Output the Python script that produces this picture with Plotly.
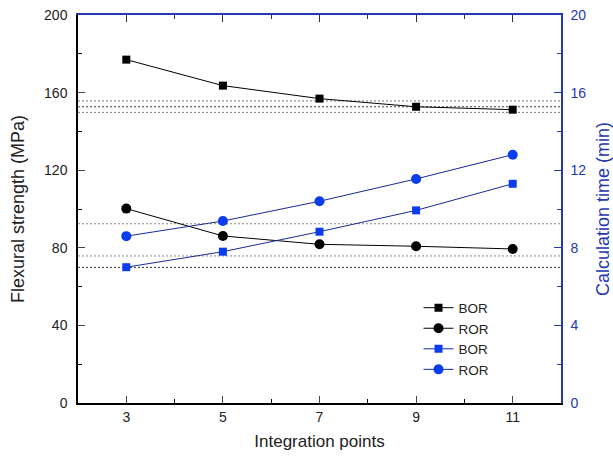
import plotly.graph_objects as go

points = [3, 5, 7, 9, 11]
bor_strength = [177.0, 163.6, 156.9, 152.7, 151.2]
ror_strength = [100.2, 86.1, 81.8, 80.8, 79.4]
bor_time = [7.0, 7.8, 8.83, 9.93, 11.3]
ror_time = [8.6, 9.38, 10.4, 11.55, 12.8]
ref_lines = [155.7, 152.7, 149.8, 92.4, 75.8, 69.9]
ref_colors = ["#777777", "#444444", "#777777", "#888888", "#888888", "#333333"]

blue_axis = "#2538b0"
blue_mark = "#0a3cf0"

fig = go.Figure()
for yv, c in zip(ref_lines, ref_colors):
    fig.add_trace(go.Scatter(x=[2, 12], y=[yv, yv], mode="lines",
                             line=dict(color=c, width=1, dash="2px,2px"),
                             showlegend=False, hoverinfo="skip"))

fig.add_trace(go.Scatter(x=points, y=bor_strength, name="BOR", mode="lines+markers",
                         line=dict(color="black", width=1),
                         marker=dict(symbol="square", size=8, color="black")))
fig.add_trace(go.Scatter(x=points, y=ror_strength, name="ROR", mode="lines+markers",
                         line=dict(color="black", width=1),
                         marker=dict(symbol="circle", size=10, color="black")))
fig.add_trace(go.Scatter(x=points, y=bor_time, name="BOR", mode="lines+markers", yaxis="y2",
                         line=dict(color="#1a2a9a", width=1),
                         marker=dict(symbol="square", size=8, color=blue_mark)))
fig.add_trace(go.Scatter(x=points, y=ror_time, name="ROR", mode="lines+markers", yaxis="y2",
                         line=dict(color="#1a2a9a", width=1),
                         marker=dict(symbol="circle", size=10, color=blue_mark)))
# invisible trace for top axis
fig.add_trace(go.Scatter(x=[2, 12], y=[0, 0], xaxis="x2", mode="lines",
                         line=dict(width=0), showlegend=False, hoverinfo="skip"))

font = "Arial, Liberation Sans, sans-serif"
fig.update_layout(
    width=613, height=465,
    margin=dict(l=78, r=52, t=15, b=62),
    paper_bgcolor="white", plot_bgcolor="white",
    font=dict(family=font, size=14, color="#222222"),
    showlegend=True,
    legend=dict(x=0.705, y=0.285, xanchor="left", yanchor="top",
                bgcolor="rgba(0,0,0,0)", font=dict(size=13.5, color="#222222"),
                tracegroupgap=0),
    xaxis=dict(range=[2, 12], tickvals=[3, 5, 7, 9, 11], ticks="inside", ticklen=7,
               showline=True, linecolor="black", linewidth=1.5, showgrid=False, zeroline=False,
               minor=dict(tickvals=[4, 6, 8, 10], ticks="inside", ticklen=4, tickcolor="black"),
               title=dict(text="Integration points", font=dict(size=17, color="#222222"), standoff=12),
               tickfont=dict(size=14, color="#222222")),
    xaxis2=dict(range=[2, 12], overlaying="x", side="top", tickvals=[3, 5, 7, 9, 11],
                ticks="inside", ticklen=7, showticklabels=False, showline=True,
                linecolor=blue_axis, linewidth=1.5, showgrid=False, zeroline=False,
                tickcolor="#333333",
                minor=dict(tickvals=[4, 6, 8, 10], ticks="inside", ticklen=4, tickcolor="#333333")),
    yaxis=dict(range=[0, 200], tickvals=[0, 40, 80, 120, 160, 200], ticks="inside", ticklen=7,
               showline=True, linecolor="black", linewidth=1.5, showgrid=False, zeroline=False,
               ticklabelstandoff=6, automargin=False,
               minor=dict(tickvals=[20, 60, 100, 140, 180], ticks="inside", ticklen=4, tickcolor="black"),
               title=dict(text="Flexural strength (MPa)", font=dict(size=18, color="#222222")),
               tickfont=dict(size=14, color="#222222")),
    yaxis2=dict(range=[0, 20], tickvals=[0, 4, 8, 12, 16, 20], overlaying="y", side="right",
                ticks="inside", ticklen=7, tickcolor=blue_axis,
                showline=True, linecolor=blue_axis, linewidth=1.5, showgrid=False, zeroline=False,
                ticklabelstandoff=5, automargin=False,
                minor=dict(tickvals=[2, 6, 10, 14, 18], ticks="inside", ticklen=4, tickcolor=blue_axis),
                title=dict(text="Calculation time (min)", font=dict(size=18, color=blue_axis)),
                tickfont=dict(size=14, color=blue_axis)),
)

fig.write_html("out.html")
